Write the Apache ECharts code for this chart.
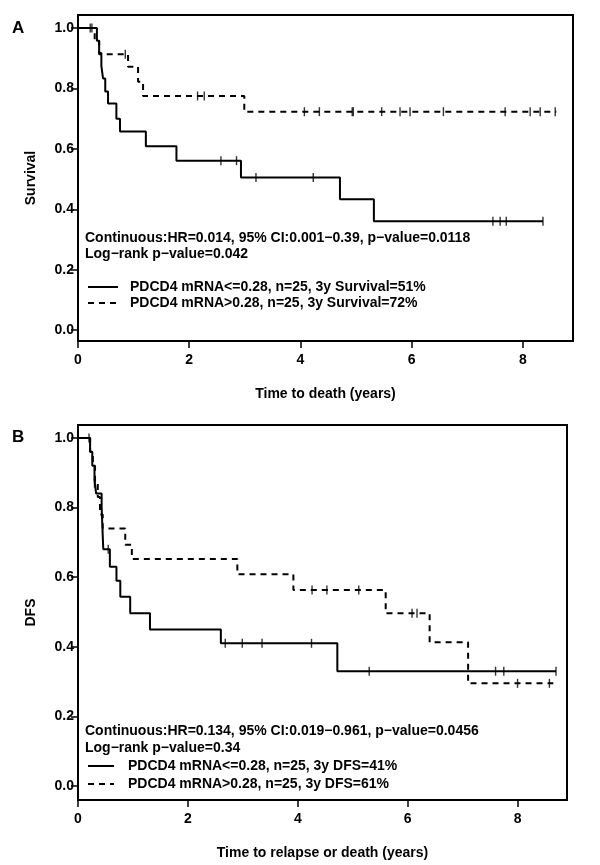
<!DOCTYPE html>
<html>
<head>
<meta charset="utf-8">
<script src="https://cdn.jsdelivr.net/npm/echarts@6/dist/echarts.min.js"></script>
<style>
html,body{margin:0;padding:0;background:#fff;}
#chart{width:600px;height:865px;}
</style>
</head>
<body>
<div id="chart"></div>
<script>
// ---------- data ----------
const xTicks = [0, 2, 4, 6, 8];
const yTicks = [0, 0.2, 0.4, 0.6, 0.8, 1.0];

// Panel A: overall survival
const aLowTime  = [0, 0.34, 0.38, 0.42, 0.45, 0.49, 0.54, 0.69, 0.755, 1.22, 1.77, 2.93, 4.71, 5.32, 8.36];
const aLowSurv  = [1.0, 0.958, 0.917, 0.875, 0.833, 0.79, 0.75, 0.70, 0.657, 0.609, 0.561, 0.505, 0.433, 0.36, 0.36];
const aLowCensT = [0.22, 2.57, 2.85, 3.2, 4.23, 7.46, 7.59, 7.7, 8.36];
const aLowCensS = [1.0, 0.561, 0.561, 0.505, 0.505, 0.36, 0.36, 0.36, 0.36];
const aHighTime = [0, 0.3, 0.38, 0.9, 1.08, 1.17, 2.99, 8.6];
const aHighSurv = [1.0, 0.957, 0.913, 0.872, 0.822, 0.775, 0.723, 0.723];
const aHighCensT = [0.25, 0.85, 2.15, 2.27, 4.07, 4.34, 4.93, 4.95, 5.46, 5.79, 5.97, 6.57, 7.68, 8.13, 8.31, 8.58];
const aHighCensS = [1.0, 0.913, 0.775, 0.775, 0.723, 0.723, 0.723, 0.723, 0.723, 0.723, 0.723, 0.723, 0.723, 0.723, 0.723, 0.723];

// Panel B: disease-free survival
const bLowTime  = [0, 0.22, 0.26, 0.30, 0.33, 0.43, 0.44, 0.45, 0.46, 0.58, 0.70, 0.77, 0.95, 1.31, 2.6, 4.72, 8.7];
const bLowSurv  = [1.0, 0.96, 0.92, 0.88, 0.84, 0.80, 0.76, 0.72, 0.68, 0.63, 0.59, 0.544, 0.496, 0.45, 0.41, 0.33, 0.33];
const bLowCensT = [0.2, 0.55, 2.68, 2.99, 3.35, 4.25, 5.3, 7.6, 7.75, 8.7];
const bLowCensS = [1.0, 0.68, 0.41, 0.41, 0.41, 0.41, 0.33, 0.33, 0.33, 0.33];
const bHighTime = [0, 0.22, 0.27, 0.31, 0.36, 0.40, 0.45, 0.86, 0.98, 2.9, 3.92, 5.6, 6.4, 7.1, 8.65];
const bHighSurv = [1.0, 0.96, 0.92, 0.87, 0.83, 0.78, 0.74, 0.693, 0.652, 0.608, 0.563, 0.496, 0.413, 0.295, 0.295];
const bHighCensT = [0.3, 4.26, 4.53, 5.11, 6.08, 6.17, 8.0, 8.58];
const bHighCensS = [0.87, 0.563, 0.563, 0.563, 0.496, 0.496, 0.295, 0.295];

const aTexts = ['Continuous:HR=0.014, 95% CI:0.001\u22120.39, p\u2212value=0.0118', 'Log\u2212rank p\u2212value=0.042'];
const aLegend = ['PDCD4 mRNA<=0.28, n=25, 3y Survival=51%', 'PDCD4 mRNA>0.28, n=25, 3y Survival=72%'];
const bTexts = ['Continuous:HR=0.134, 95% CI:0.019\u22120.961, p\u2212value=0.0456', 'Log\u2212rank p\u2212value=0.34'];
const bLegend = ['PDCD4 mRNA<=0.28, n=25, 3y DFS=41%', 'PDCD4 mRNA>0.28, n=25, 3y DFS=61%'];

// ---------- helpers ----------
const zip = (t, s) => t.map((v, i) => [v, s[i]]);
const SANS = "'Liberation Sans', Arial, sans-serif";
const DASH = [6, 5];

function stepSeries(idx, t, s, dashed) {
  return {
    type: 'line', xAxisIndex: idx, yAxisIndex: idx, step: 'end',
    data: zip(t, s), symbol: 'none', silent: true, animation: false,
    lineStyle: { color: '#000', width: 2, type: dashed ? DASH : 'solid' }
  };
}
function censSeries(idx, t, s) {
  return {
    type: 'scatter', xAxisIndex: idx, yAxisIndex: idx,
    data: zip(t, s), symbol: 'rect', symbolSize: [1.4, 9],
    itemStyle: { color: '#000' }, silent: true, animation: false
  };
}
const axisFont = { fontFamily: SANS, fontWeight: 'bold', fontSize: 14, color: '#000' };
function xAxisDef(idx, name) {
  return {
    type: 'value', gridIndex: idx, min: 0, max: 8.9,
    name: name, nameLocation: 'middle', nameGap: 46,
    nameTextStyle: axisFont,
    axisLine: { show: false, onZero: false },
    splitLine: { show: false },
    axisTick: { show: true, inside: false, length: 7, customValues: xTicks, lineStyle: { color: '#000', width: 1.5 } },
    axisLabel: Object.assign({ customValues: xTicks, margin: 12 }, axisFont)
  };
}
function yAxisDef(idx, name, min, max) {
  return {
    type: 'value', gridIndex: idx, min: min, max: max,
    name: name, nameLocation: 'middle', nameGap: 40,
    nameTextStyle: axisFont,
    axisLine: { show: false, onZero: false },
    splitLine: { show: false },
    axisTick: { show: true, inside: false, length: 7, customValues: yTicks, lineStyle: { color: '#000', width: 1.5 } },
    axisLabel: Object.assign({ customValues: yTicks, margin: 4, formatter: v => v.toFixed(1) }, axisFont)
  };
}
function txt(x, y, s, size) {
  return { type: 'text', x: x, y: y, style: { text: s, fill: '#000', font: 'bold ' + (size || 14) + 'px ' + SANS, textVerticalAlign: 'middle', textAlign: 'left' }, silent: true };
}
function seg(x1, x2, y, dashed) {
  return { type: 'line', shape: { x1: x1, y1: y, x2: x2, y2: y }, style: { stroke: '#000', lineWidth: 2, lineDash: dashed ? DASH : null }, silent: true };
}

const chart = echarts.init(document.getElementById('chart'), null, { renderer: 'canvas' });
chart.setOption({
  backgroundColor: '#fff',
  animation: false,
  grid: [
    { left: 78, top: 15, width: 495, height: 326, show: true, borderColor: '#000', borderWidth: 2, backgroundColor: 'transparent' },
    { left: 78, top: 425, width: 489, height: 375, show: true, borderColor: '#000', borderWidth: 2, backgroundColor: 'transparent' }
  ],
  xAxis: [xAxisDef(0, 'Time to death (years)'), xAxisDef(1, 'Time to relapse or death (years)')],
  yAxis: [yAxisDef(0, 'Survival', -0.036, 1.043), yAxisDef(1, 'DFS', -0.04, 1.037)],
  series: [
    stepSeries(0, aLowTime, aLowSurv, false),
    stepSeries(0, aHighTime, aHighSurv, true),
    censSeries(0, aLowCensT, aLowCensS),
    censSeries(0, aHighCensT, aHighCensS),
    stepSeries(1, bLowTime, bLowSurv, false),
    stepSeries(1, bHighTime, bHighSurv, true),
    censSeries(1, bLowCensT, bLowCensS),
    censSeries(1, bHighCensT, bHighCensS)
  ],
  graphic: [
    txt(12, 28, 'A', 17),
    txt(12, 437, 'B', 17),
    txt(85, 238, aTexts[0]),
    txt(85, 254, aTexts[1]),
    seg(88, 118, 287, false), txt(130, 287, aLegend[0]),
    seg(88, 118, 303, true),  txt(130, 303, aLegend[1]),
    txt(85, 731, bTexts[0]),
    txt(85, 748, bTexts[1]),
    seg(88, 114, 766, false), txt(128, 766, bLegend[0]),
    seg(88, 114, 784, true),  txt(128, 784, bLegend[1])
  ]
});
</script>
</body>
</html>
